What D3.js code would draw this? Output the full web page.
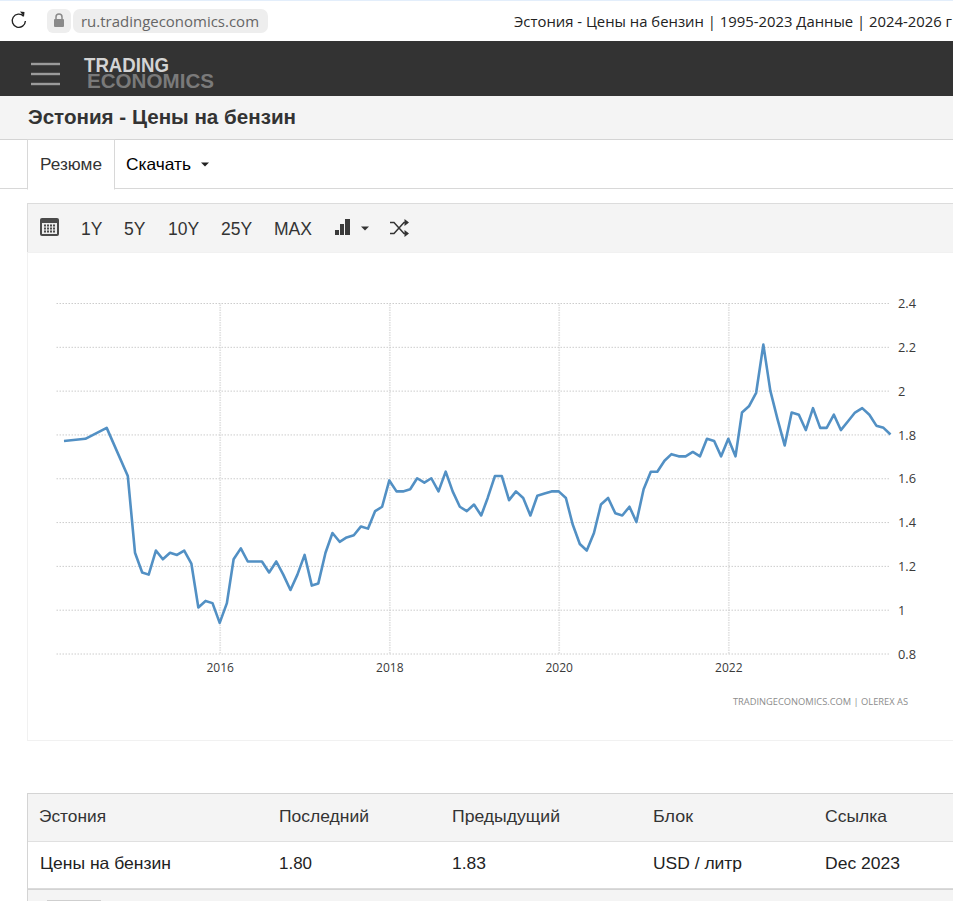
<!DOCTYPE html>
<html lang="ru"><head><meta charset="utf-8"><title>Эстония - Цены на бензин</title>
<script src="https://cdn.jsdelivr.net/npm/d3@7/dist/d3.min.js"></script>
<style>
html,body{margin:0;padding:0;background:#fff;overflow:hidden}
svg{display:block}
text{font-family:"Liberation Sans",Arial,sans-serif}
</style></head><body><div id="chart"></div>
<script>
const months = ["2014-03","2014-06","2014-09","2014-12",
"2015-01","2015-02","2015-03","2015-04","2015-05","2015-06","2015-07","2015-08","2015-09","2015-10","2015-11","2015-12",
"2016-01","2016-02","2016-03","2016-04","2016-05","2016-06","2016-07","2016-08","2016-09","2016-10","2016-11","2016-12",
"2017-01","2017-02","2017-03","2017-04","2017-05","2017-06","2017-07","2017-08","2017-09","2017-10","2017-11","2017-12",
"2018-01","2018-02","2018-03","2018-04","2018-05","2018-06","2018-07","2018-08","2018-09","2018-10","2018-11","2018-12",
"2019-01","2019-02","2019-03","2019-04","2019-05","2019-06","2019-07","2019-08","2019-09","2019-10","2019-11","2019-12",
"2020-01","2020-02","2020-03","2020-04","2020-05","2020-06","2020-07","2020-08","2020-09","2020-10","2020-11","2020-12",
"2021-01","2021-02","2021-03","2021-04","2021-05","2021-06","2021-07","2021-08","2021-09","2021-10","2021-11","2021-12",
"2022-01","2022-02","2022-03","2022-04","2022-05","2022-06","2022-07","2022-08","2022-09","2022-10","2022-11","2022-12",
"2023-01","2023-02","2023-03","2023-04","2023-05","2023-06","2023-07","2023-08","2023-09","2023-10","2023-11","2023-12"];
const prices = [1.77,1.78,1.83,1.61,
1.26,1.17,1.16,1.27,1.23,1.26,1.25,1.27,1.21,1.01,1.04,1.03,
0.94,1.03,1.23,1.28,1.22,1.22,1.22,1.17,1.22,1.16,1.09,1.16,
1.25,1.11,1.12,1.26,1.35,1.31,1.33,1.34,1.38,1.37,1.45,1.47,
1.59,1.54,1.54,1.55,1.60,1.58,1.60,1.54,1.63,1.54,1.47,1.45,
1.48,1.43,1.51,1.61,1.61,1.50,1.54,1.51,1.43,1.52,1.53,1.54,
1.54,1.51,1.39,1.30,1.27,1.35,1.48,1.51,1.44,1.43,1.47,1.40,
1.55,1.63,1.63,1.68,1.71,1.70,1.70,1.72,1.70,1.78,1.77,1.70,
1.78,1.70,1.90,1.93,1.99,2.21,2.00,1.87,1.75,1.90,1.89,1.82,
1.92,1.83,1.83,1.89,1.82,1.86,1.90,1.92,1.89,1.84,1.83,1.80];
const yTickValues = [0.8,1,1.2,1.4,1.6,1.8,2,2.2,2.4];
const xTickYears = [2016,2018,2020,2022];
const toolbarLabels = ["1Y","5Y","10Y","25Y","MAX"];
const tableHeader = ["Эстония","Последний","Предыдущий","Блок","Ссылка"];
const tableRow = ["Цены на бензин","1.80","1.83","USD / литр","Dec 2023"];

const svg = d3.select("#chart").append("svg").attr("width",953).attr("height",901);
const rect=(x,y,w,h,f,s)=>svg.append("rect").attr("x",x).attr("y",y).attr("width",w).attr("height",h).attr("fill",f).attr("stroke",s||"none");
const line=(x1,y1,x2,y2,c,w=1)=>svg.append("line").attr("x1",x1).attr("y1",y1).attr("x2",x2).attr("y2",y2).attr("stroke",c).attr("stroke-width",w);
const label=(x,y,t,size,fill,extra={})=>{const e=svg.append("text").attr("x",x).attr("y",y).attr("font-size",size).attr("fill",fill).text(t);Object.entries(extra).forEach(([k,v])=>e.attr(k,v));return e;};
const fit=w=>({textLength:w,lengthAdjust:"spacingAndGlyphs"});

// browser bar
rect(0,0,953,1,"#e3eefb");
svg.append("path").attr("d","M23.6 16.2 A6.6 6.6 0 1 0 25.4 21").attr("fill","none").attr("stroke","#222").attr("stroke-width",1.4);
svg.append("path").attr("d","M20 11.5 L24.5 12 L24 16.8 Z").attr("fill","#222");
rect(47,9,24,24,"#eeeeee").attr("rx",6);
rect(73,9,195,24,"#eeeeee").attr("rx",7);
rect(54,19,10,8,"#8a8a8a").attr("rx",1);
svg.append("path").attr("d","M56 19 V17 a3 3 0 0 1 6 0 V19").attr("fill","none").attr("stroke","#8a8a8a").attr("stroke-width",1.5);
label(81,27,"ru.tradingeconomics.com",15,"#666",{style:"font-family:'Open Sans'",...fit(178)});
label(514,27,"Эстония - Цены на бензин | 1995-2023 Данные | 2024-2026 г",14.4,"#222",{style:"font-family:'Open Sans'",...fit(438)});

// site header
rect(0,41,953,55,"#333333");
[64,74,84].forEach(y=>line(31,y,60,y,"#9a9a9a",2.4));
const logo=svg.append("text").attr("font-size",19.5).attr("font-weight","bold");
logo.append("tspan").attr("x",84).attr("y",72).attr("fill","#d4d4d4").attr("textLength",85).attr("lengthAdjust","spacingAndGlyphs").text("TRADING");
logo.append("tspan").attr("x",87).attr("y",88).attr("fill","#7a7a7a").attr("textLength",127).attr("lengthAdjust","spacingAndGlyphs").text("ECONOMICS");

// title band
rect(0,96,953,43,"#f4f4f4");
line(0,139.5,953,139.5,"#d4d4d4");
label(28,124,"Эстония - Цены на бензин",20,"#333",{"font-weight":"bold",...fit(268)});

// tabs
line(0,188.5,953,188.5,"#d8d8d8");
rect(27.5,139.5,87,49.5,"#fff","#d8d8d8");
rect(28,187,86,3,"#fff");
label(40,170,"Резюме",16.5,"#333",fit(62));
label(126,170,"Скачать",16.5,"#000",fit(65));
svg.append("path").attr("d","M201 162.5 h8 l-4 4 Z").attr("fill","#222");

// toolbar
rect(27.5,203.5,930,49,"#f4f4f4","#dcdcdc");
rect(40,218,19,18,"#4a4a4a").attr("rx",2);
rect(42,223,15,11,"#ececec");
svg.append("g").selectAll("rect").data(d3.range(12)).join("rect")
  .attr("x",d=>44+(d%4)*3).attr("y",d=>224.5+Math.floor(d/4)*3).attr("width",2).attr("height",2).attr("fill","#4a4a4a");
const toolbarX=[81,124,168,221,274];
toolbarLabels.forEach((t,i)=>label(toolbarX[i],235,t,17.5,"#333"));
[[335,230,4,5],[340,224,4,11],[345,219,5,16]].forEach(b=>rect(b[0],b[1],b[2],b[3],"#3a3a3a"));
svg.append("path").attr("d","M361 226.5 h8 l-4 4 Z").attr("fill","#333");
svg.append("path").attr("d","M390 222.5 h4 l10 11 h3 M390 233.5 h4 l10 -11 h3").attr("fill","none").attr("stroke","#333").attr("stroke-width",1.5);
svg.append("path").attr("d","M404.5 219 l4.5 3.5 -4.5 3.5 Z M404.5 230 l4.5 3.5 -4.5 3.5 Z").attr("fill","#333");

// chart panel
rect(27.5,252.5,930,488,"#fff","#f1f1f1");

// chart
const parse = d3.timeParse("%Y-%m");
const data = months.map((m,i)=>({date:parse(m),value:prices[i]}));
const x = d3.scaleTime().domain([parse("2014-03"),parse("2023-12")]).range([64,890.5]);
const y = d3.scaleLinear().domain([0.8,2.4]).range([653.5,303]);
const gridLeft=56, gridRight=889;

const xGrid = svg.append("g").attr("transform","translate(0,653.5)")
  .call(d3.axisBottom(x).tickValues(xTickYears.map(v=>new Date(v,0,1))).tickFormat(d3.timeFormat("%Y")).tickSize(-350.5));
xGrid.select(".domain").remove();
xGrid.selectAll("line").attr("stroke","#e2e2e2").attr("stroke-dasharray","1.5,1").attr("stroke-width",1.8);
xGrid.selectAll("text").attr("fill","#3a3a3a").attr("font-size",12).attr("dy",0).attr("y",18).attr("style","font-family:'Open Sans';font-weight:500");

const yGrid = svg.append("g").attr("transform",`translate(${gridRight},0)`)
  .call(d3.axisRight(y).tickValues(yTickValues).tickFormat(d3.format("~g")).tickSize(-(gridRight-gridLeft)).tickPadding(9));
yGrid.select(".domain").remove();
yGrid.selectAll("line").attr("stroke","#cccccc").attr("stroke-dasharray","1.5,1.5");
yGrid.selectAll("text").attr("fill","#3a3a3a").attr("font-size",12.8).attr("dy","0.36em").attr("style","font-family:'Open Sans';font-weight:500");

svg.append("path").datum(data).attr("fill","none").attr("stroke","#5290c4").attr("stroke-width",2.6).attr("stroke-linejoin","round")
  .attr("d",d3.line().x(d=>x(d.date)).y(d=>y(d.value)));

label(733,705,"TRADINGECONOMICS.COM  |  OLEREX AS",9,"#8c8c8c",{style:"font-family:'Open Sans'",...fit(175)});

// table
const colX=[39,279,452,653,825];
const headW=[67,90,108,40,62], rowW=[131,33,34,89,75];
rect(27.5,793.5,930,48,"#f4f4f4","#d4d4d4");
rect(27.5,841.5,930,48,"#fff","#e0e0e0");
line(28,889,953,889,"#cfcfcf",1.6);
rect(28,890,925,11,"#f4f4f4");
line(27.5,793,27.5,901,"#d4d4d4");
rect(47,900,54,1,"#cfcfcf");
tableHeader.forEach((t,i)=>label(colX[i],822,t,16.5,"#333",fit(headW[i])));
tableRow.forEach((t,i)=>label(colX[i]+(i==0?1:0),869,t,16.5,"#222",fit(rowW[i])));
</script></body></html>
